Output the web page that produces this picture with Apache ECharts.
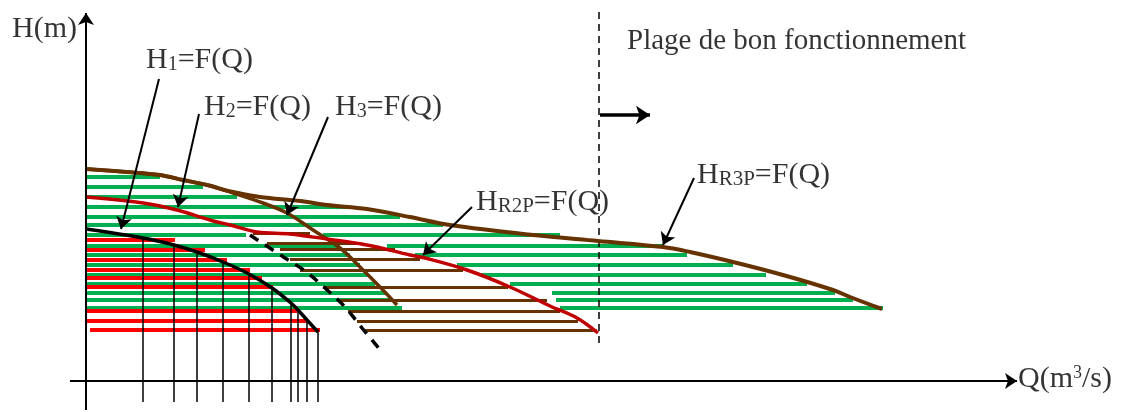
<!DOCTYPE html>
<html>
<head>
<meta charset="utf-8">
<script src="https://cdn.jsdelivr.net/npm/echarts@6/dist/echarts.min.js"></script>
<style>
  html, body { margin: 0; padding: 0; background: #fff; }
  #main { width: 1123px; height: 412px; }
</style>
</head>
<body>
<div id="main"></div>
<script>
// chart units: Q to the right of the origin, H above it (no graduations on the sketch)
var h1Q = [0, 57, 88, 111, 137, 163, 186, 205, 212, 221, 232];
var h1H = [152, 143, 136, 129, 119, 107, 93, 78, 71, 61, 49];

// H2 alone then HR2P (two pumps)
var h2Q = [0, 57, 91, 124, 144, 171, 204, 241, 281, 324, 339, 381, 424, 464, 491, 512];
var h2H = [184, 178, 171, 161, 156, 149, 147, 142, 136, 126, 123, 111, 94, 75, 63, 48];

// dashed end of H2
var h2dQ = [164, 196, 219, 239, 259, 276, 296];
var h2dH = [146, 125, 110, 93, 74, 53, 29];

var hr3Q = [0, 41, 74, 97, 121, 147, 174, 214, 241, 281, 324, 364, 447, 512, 577, 604, 647, 697, 747, 764, 796];
var hr3H = [212, 209, 206, 201, 196, 189, 184, 180, 176, 172, 164, 156, 146, 140, 134, 129, 119, 106, 91, 84, 72];

var h3Q = [0, 41, 74, 97, 121, 147, 177, 201, 227, 254, 274, 294, 311];
var h3H = [212, 209, 206, 201, 196, 188, 178, 168, 151, 133, 114, 94, 76];

// hatching
var greenH    = [204, 194, 184, 174, 164, 156, 146, 146, 135, 135, 126, 126, 116, 116, 106, 106, 97, 97, 88, 88, 81, 81, 73, 73];
var greenFrom = [0, 0, 0, 0, 0, 0, 0, 237, 0, 301, 0, 329, 0, 371, 0, 394, 0, 424, 0, 466, 0, 470, 0, 474];
var greenTo   = [74, 117, 151, 261, 314, 357, 160, 474, 254, 577, 264, 601, 274, 647, 282, 680, 289, 721, 299, 749, 306, 767, 316, 797];

var redH    = [141, 131, 121, 111, 103, 94, 70, 60, 51];
var redFrom = [0, 0, 0, 0, 0, 0, 0, 0, 4];
var redTo   = [89, 119, 141, 164, 176, 187, 211, 222, 234];

var brownH    = [148, 138, 132, 122, 111, 94, 81, 70, 60, 51];
var brownFrom = [167, 181, 194, 204, 214, 237, 254, 262, 271, 277];
var brownTo   = [224, 274, 309, 334, 377, 422, 461, 474, 492, 511];

// verticals under H1
var vertQ = [57, 88, 111, 137, 163, 186, 205, 212, 221, 232];
var vertTop = [143, 136, 129, 119, 107, 93, 78, 71, 61, 49];
var vertBottom = -21;

var FONT = "'Liberation Serif', 'Times New Roman', serif";

function pts(qs, hs) {
  return qs.map(function (q, i) { return [q, hs[i]]; });
}
function rows(hs, from, to) {
  return hs.map(function (h, i) { return { coords: [[from[i], h], [to[i], h]] }; });
}
function hatch(hs, from, to, color, w) {
  return {
    type: 'lines', coordinateSystem: 'cartesian2d', silent: true, z: 2,
    lineStyle: { color: color, width: w, opacity: 1 },
    data: rows(hs, from, to)
  };
}
function curve(qs, hs, color, w, type) {
  return {
    type: 'line', data: pts(qs, hs), smooth: 0.35, symbol: 'none', silent: true, z: 5,
    lineStyle: { color: color, width: w, type: type || 'solid' }
  };
}
function arrow(a, b, w, size) {
  return { coords: [a, b], lineStyle: { width: w }, symbolSize: size };
}

var rich = {
  m: { fontSize: 30, lineHeight: 30, fontFamily: FONT, color: '#000' },
  g: { fontSize: 29, lineHeight: 30, fontFamily: FONT, color: '#000' },
  s: { fontSize: 20, lineHeight: 10, verticalAlign: 'bottom', fontFamily: FONT, color: '#000' },
  r: { fontSize: 21, lineHeight: 10, verticalAlign: 'bottom', fontFamily: FONT, color: '#000' },
  p: { fontSize: 18, lineHeight: 10, verticalAlign: 'top', fontFamily: FONT, color: '#000' }
};

var labels = [
  { value: [-74, 352], text: '{m|H(m)}' },
  { value: [60, 321], text: '{m|H}{s|1}{m|=F(Q)}' },
  { value: [118, 274], text: '{m|H}{s|2}{m|=F(Q)}' },
  { value: [249, 274], text: '{m|H}{s|3}{m|=F(Q)}' },
  { value: [390, 179], text: '{m|H}{r|R2P}{m|=F(Q)}' },
  { value: [611, 206], text: '{m|H}{r|R3P}{m|=F(Q)}' },
  { value: [541, 340], text: '{g|Plage de bon fonctionnement}' },
  { value: [932, 2], text: '{m|Q(m}{p|3}{m|/s)}' }
];

var chart = echarts.init(document.getElementById('main'));
chart.setOption({
  animation: false,
  backgroundColor: '#fff',
  grid: { left: 0, right: 0, top: 0, bottom: 0 },
  xAxis: { type: 'value', min: -86, max: 1037, show: false },
  yAxis: { type: 'value', min: -31, max: 381, show: false },
  series: [
    hatch(greenH, greenFrom, greenTo, '#00b050', 4),
    hatch(redH, redFrom, redTo, '#ff0000', 4),
    hatch(brownH, brownFrom, brownTo, '#663300', 3),
    {
      type: 'lines', coordinateSystem: 'cartesian2d', silent: true, z: 3,
      lineStyle: { color: '#000', width: 1.5, opacity: 1 },
      data: vertQ.map(function (q, i) { return { coords: [[q, vertTop[i]], [q, vertBottom]] }; })
    },
    curve(hr3Q, hr3H, '#663300', 4),
    curve(h3Q, h3H, '#663300', 3.5),
    curve(h2Q, h2H, '#c00000', 3.5),
    curve(h2dQ, h2dH, '#000', 3.5, [10, 8]),
    curve(h1Q, h1H, '#000', 3.5),
    {
      // dashed limit of the good operating range
      type: 'lines', coordinateSystem: 'cartesian2d', silent: true, z: 4,
      lineStyle: { color: '#000', width: 1.5, type: [7, 5], opacity: 1 },
      data: [{ coords: [[513, 369], [513, 38]] }]
    },
    {
      type: 'lines', coordinateSystem: 'cartesian2d', silent: true, z: 6,
      symbol: ['none', 'arrow'],
      symbolSize: 11,
      lineStyle: { color: '#000', width: 2, opacity: 1 },
      itemStyle: { color: '#000' },
      data: [
        arrow([-16, 0], [931, 0], 2, [9, 12]),
        arrow([0, -29], [0, 368], 2, [9, 12]),
        arrow([73, 302], [35, 152], 2, 12),
        arrow([113, 267], [92, 174], 2, 12),
        arrow([242, 264], [201, 166], 2, 12),
        arrow([386, 174], [337, 126], 2, 12),
        arrow([608, 203], [577, 136], 2, 12),
        arrow([514, 266], [564, 266], 3.5, 14)
      ]
    },
    {
      type: 'scatter', symbolSize: 0, silent: true, z: 10,
      data: labels.map(function (l) {
        return {
          value: l.value,
          label: {
            show: true, position: [0, 0], align: 'left', verticalAlign: 'middle',
            color: '#000', textBorderWidth: 0,
            formatter: l.text, rich: rich
          }
        };
      })
    }
  ]
});
</script>
</body>
</html>
